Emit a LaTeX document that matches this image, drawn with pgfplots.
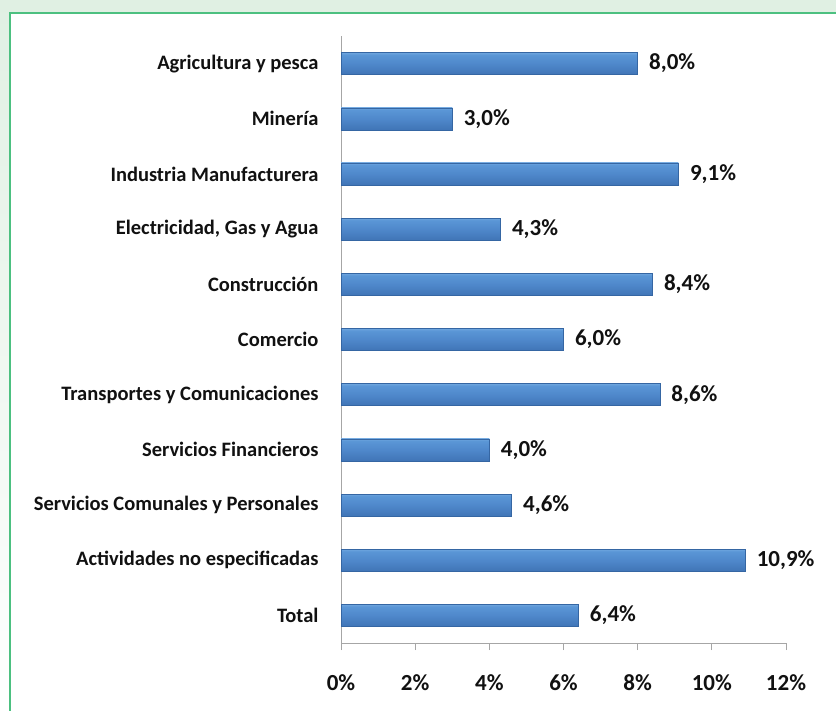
\documentclass[border=0pt]{standalone}
\usepackage{fontspec}
\setmainfont{Carlito}
\usepackage{pgfplots}
\pgfplotsset{compat=1.18}
\definecolor{frame}{HTML}{4CC080}
\definecolor{bgtop}{HTML}{E0F0E3}
\definecolor{axisgray}{HTML}{A6A6A6}
\definecolor{bA}{HTML}{2B5790}
\definecolor{bB}{HTML}{3A6DAE}
\definecolor{bC}{HTML}{4F88CB}
\definecolor{bD}{HTML}{5A96D6}
\definecolor{bE}{HTML}{8DBDEB}
\definecolor{bF}{HTML}{6FA5DE}
\definecolor{bG}{HTML}{3F72B0}
\definecolor{barline}{HTML}{3566A3}
\definecolor{txt}{HTML}{111111}
\pgfdeclareverticalshading{barshade}{100bp}{color(0bp)=(bA); color(15bp)=(bB); color(50bp)=(bC);
  color(70bp)=(bD); color(82bp)=(bE); color(93bp)=(bF); color(100bp)=(bG)}
\pgfplotsset{barst/.style={draw=barline, line width=0.5pt, shading=barshade, shade, bar shift=0pt}}
\begin{document}
\begin{tikzpicture}
\useasboundingbox (0bp,0bp) rectangle (836bp,711bp);
\shade[top color=bgtop, bottom color=white] (0bp,0bp) rectangle (836bp,711bp);
\fill[white] (10bp,-10bp) rectangle (846bp,698bp);
\draw[frame, line width=2bp] (10bp,-10bp) -- (10bp,698bp) -- (846bp,698bp);
\begin{axis}[
  at={(341bp,68bp)}, anchor=south west,
  scale only axis,
  width=445bp, height=607bp,
  xbar, bar width=22bp,
  xmin=0, xmax=12,
  ymin=-0.5, ymax=10.5,
  axis x line*=bottom, axis y line*=left,
  axis line style={axisgray, line width=0.8pt},
  every tick/.style={axisgray, line width=0.8pt},
  tick align=outside,
  xtick={0,2,...,12},
  major tick length=7bp,
  xticklabel={\pgfmathprintnumber{\tick}\%},
  xticklabel style={yshift=-21bp, font=\bfseries\fontsize{23bp}{26bp}\selectfont},
  ytick={0,...,10},
  yticklabels={Total, Actividades no especificadas, Servicios Comunales y Personales,
    Servicios Financieros, Transportes y Comunicaciones, Comercio, Construcción,
    {Electricidad, Gas y Agua}, Industria Manufacturera, Minería, Agricultura y pesca},
  y tick style={draw=none},
  minor ytick={-0.5,0.5,...,10.5},
  minor y tick style={axisgray, line width=0.8pt},
  minor tick length=7bp,
  yticklabel style={xshift=-12bp, font=\bfseries\fontsize{20.5bp}{24bp}\selectfont},
  ticklabel style={text=txt},
  /pgf/number format/assume math mode=true,
  nodes near coords={\pgfmathprintnumber[fixed,fixed zerofill,precision=1,use comma]{\pgfplotspointmeta}\%},
  nodes near coords style={anchor=west, xshift=8bp, font=\bfseries\fontsize{23bp}{26bp}\selectfont, text=txt,
    /pgf/number format/assume math mode=true},
]
\addplot[barst] coordinates {(8.0,10)};
\addplot[barst] coordinates {(3.0,9)};
\addplot[barst] coordinates {(9.1,8)};
\addplot[barst] coordinates {(4.3,7)};
\addplot[barst] coordinates {(8.4,6)};
\addplot[barst] coordinates {(6.0,5)};
\addplot[barst] coordinates {(8.6,4)};
\addplot[barst] coordinates {(4.0,3)};
\addplot[barst] coordinates {(4.6,2)};
\addplot[barst] coordinates {(10.9,1)};
\addplot[barst] coordinates {(6.4,0)};
\end{axis}
\end{tikzpicture}
\end{document}
